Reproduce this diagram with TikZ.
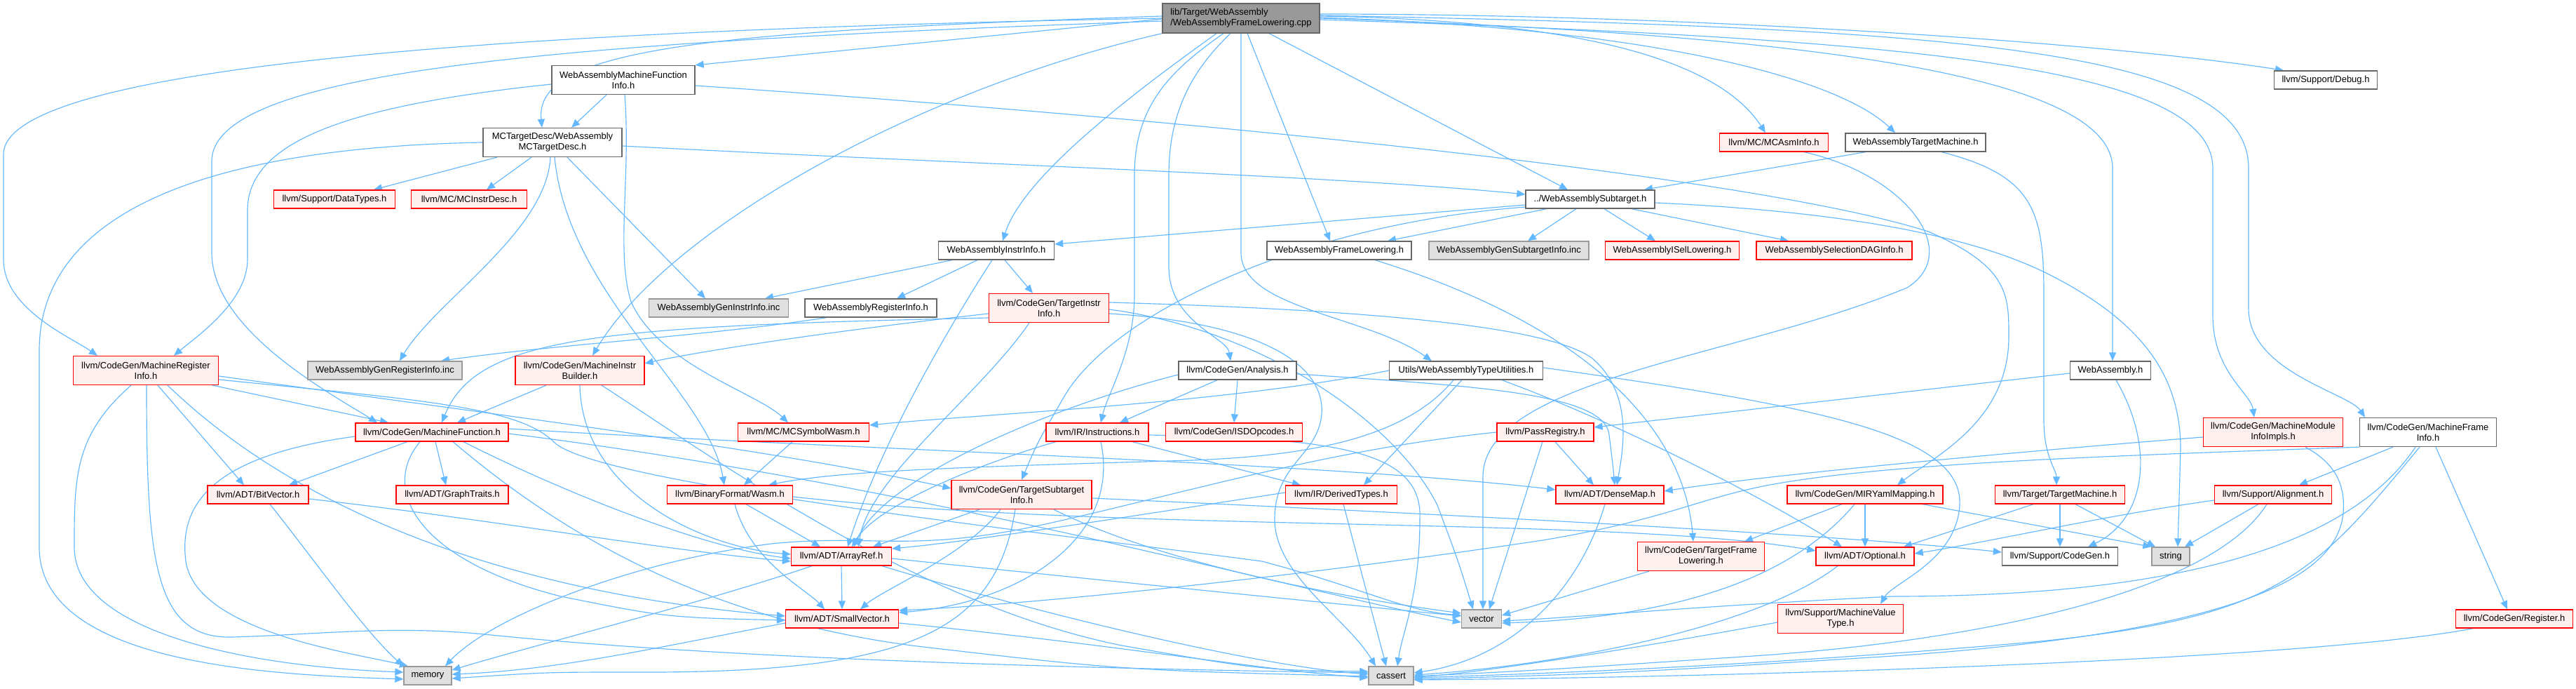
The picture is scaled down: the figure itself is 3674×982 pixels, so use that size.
\documentclass[tikz,border=0pt]{standalone}
\usepackage{fontspec}
\setmainfont{Liberation Sans}
\usetikzlibrary{arrows.meta}
\definecolor{eblue}{HTML}{63B8FF}
\definecolor{gfour}{HTML}{666666}
\definecolor{gsix}{HTML}{999999}
\definecolor{gfill}{HTML}{E0E0E0}
\definecolor{rfill}{HTML}{FFF0F0}
\newcommand\dfont{\fontsize{13}{15}\selectfont}
\newcommand\mknode[7]{\node[#1, minimum width=#5pt, minimum height=#6pt] (#2) at (#3,#4) {#7};}
\pgfdeclarelayer{bgfill}
\pgfdeclarelayer{edges}
\pgfsetlayers{bgfill,edges,main}
\begin{document}
\begin{tikzpicture}[x=1pt,y=-1pt,
 nb/.style={draw=gfour, fill=white, line width=1.3pt, inner sep=0pt, font=\dfont, align=center, text=black},
 nr/.style={nb, draw=red, fill=rfill},
 ng/.style={nb, draw=gsix, fill=gfill},
 nroot/.style={nb, draw=gfour, fill=gsix, align=left},
 e/.style={draw=eblue, line width=1.15pt, -{Triangle[length=12pt,width=10pt]}}]
\begin{pgfonlayer}{bgfill}
\fill[white] (0,0) rectangle (3674,982);
\end{pgfonlayer}
\useasboundingbox (0,0) rectangle (3674,982);

\mknode{nroot}{root}{1770}{26}{224}{42}{lib/Target/WebAssembly\\/WebAssemblyFrameLowering.cpp}
\mknode{nb}{wamfi}{889}{114}{204}{41}{WebAssemblyMachineFunction\\Info.h}
\mknode{nb}{dbg}{3317}{114}{147}{26}{llvm/Support/Debug.h}
\mknode{nb}{mctd}{788}{203}{198}{41}{MCTargetDesc/WebAssembly\\MCTargetDesc.h}
\mknode{nr}{mcasm}{2530}{203}{155}{26}{llvm/MC/MCAsmInfo.h}
\mknode{nb}{watm}{2732}{203}{200}{26}{WebAssemblyTargetMachine.h}
\mknode{nr}{dtypes}{477}{284}{173}{26}{llvm/Support/DataTypes.h}
\mknode{nr}{mcid}{669}{284}{165}{26}{llvm/MC/MCInstrDesc.h}
\mknode{nb}{sub}{2268}{284}{184}{26}{../WebAssemblySubtarget.h}
\mknode{nb}{wii}{1421}{357}{165}{26}{WebAssemblyInstrInfo.h}
\mknode{nb}{flh}{1910}{357}{206}{26}{WebAssemblyFrameLowering.h}
\mknode{ng}{gsub}{2152}{357}{228}{26}{WebAssemblyGenSubtargetInfo.inc}
\mknode{nr}{isel}{2385}{357}{191}{26}{WebAssemblyISelLowering.h}
\mknode{nr}{sdag}{2616}{357}{222}{26}{WebAssemblySelectionDAGInfo.h}
\mknode{ng}{gii}{1025}{439}{199}{26}{WebAssemblyGenInstrInfo.inc}
\mknode{nb}{wri}{1242}{439}{188}{26}{WebAssemblyRegisterInfo.h}
\mknode{nr}{tii}{1496}{439}{171}{41}{llvm/CodeGen/TargetInstr\\Info.h}
\mknode{nr}{mri}{208}{528}{207}{41}{llvm/CodeGen/MachineRegister\\Info.h}
\mknode{ng}{gri}{549}{528}{220}{26}{WebAssemblyGenRegisterInfo.inc}
\mknode{nr}{mib}{827}{528}{184}{41}{llvm/CodeGen/MachineInstr\\Builder.h}
\mknode{nb}{ana}{1765}{528}{168}{26}{llvm/CodeGen/Analysis.h}
\mknode{nb}{wtu}{2091}{528}{219}{26}{Utils/WebAssemblyTypeUtilities.h}
\mknode{nb}{wah}{3010}{528}{115}{26}{WebAssembly.h}
\mknode{nr}{mf}{616}{616}{218}{26}{llvm/CodeGen/MachineFunction.h}
\mknode{nr}{msw}{1146}{616}{187}{26}{llvm/MC/MCSymbolWasm.h}
\mknode{nr}{ins}{1565}{616}{146}{26}{llvm/IR/Instructions.h}
\mknode{nr}{isd}{1760}{616}{195}{26}{llvm/CodeGen/ISDOpcodes.h}
\mknode{nr}{preg}{2204}{616}{138}{26}{llvm/PassRegistry.h}
\mknode{nr}{mmii}{3242}{616}{199}{41}{llvm/CodeGen/MachineModule\\InfoImpls.h}
\mknode{nb}{mfi}{3463}{616}{195}{41}{llvm/CodeGen/MachineFrame\\Info.h}
\mknode{nr}{bv}{368}{705}{144}{26}{llvm/ADT/BitVector.h}
\mknode{nr}{gt}{645}{705}{160}{26}{llvm/ADT/GraphTraits.h}
\mknode{nr}{wasm}{1041}{705}{179}{26}{llvm/BinaryFormat/Wasm.h}
\mknode{nr}{tsi}{1457}{705}{200}{41}{llvm/CodeGen/TargetSubtarget\\Info.h}
\mknode{nr}{dty}{1913}{705}{159}{26}{llvm/IR/DerivedTypes.h}
\mknode{nr}{dm}{2296}{705}{154}{26}{llvm/ADT/DenseMap.h}
\mknode{nr}{mir}{2660}{705}{222}{26}{llvm/CodeGen/MIRYamlMapping.h}
\mknode{nr}{tm}{2938}{705}{185}{26}{llvm/Target/TargetMachine.h}
\mknode{nr}{al}{3242}{705}{167}{26}{llvm/Support/Alignment.h}
\mknode{nr}{ar}{1200}{793}{143}{26}{llvm/ADT/ArrayRef.h}
\mknode{nr}{tfl}{2426}{793}{181}{41}{llvm/CodeGen/TargetFrame\\Lowering.h}
\mknode{nr}{opt}{2660}{793}{140}{26}{llvm/ADT/Optional.h}
\mknode{nb}{cg}{2938}{793}{165}{26}{llvm/Support/CodeGen.h}
\mknode{ng}{str}{3096}{793}{54}{26}{string}
\mknode{nr}{sv}{1201}{882}{161}{26}{llvm/ADT/SmallVector.h}
\mknode{ng}{vec}{2113}{882}{57}{26}{vector}
\mknode{nr}{mvt}{2625}{882}{179}{41}{llvm/Support/MachineValue\\Type.h}
\mknode{nr}{reg}{3586}{882}{167}{26}{llvm/CodeGen/Register.h}
\mknode{ng}{mem}{610}{963}{68}{26}{memory}
\mknode{ng}{cas}{1984}{963}{64}{26}{cassert}

\begin{pgfonlayer}{edges}
% root
\draw[e] (root.west) .. controls (900,40) and (5,80) .. (5,220) -- (5,370) .. controls (5,440) and (100,480) .. ([xshift=-69pt]mri.north);
\draw[e] ([yshift=-4pt]root.west) .. controls (800,60) and (302,100) .. (302,230) -- (302,360) .. controls (302,470) and (470,560) .. ([xshift=-78pt]mf.north);
\draw[e] ([yshift=3pt]root.west) .. controls (1000,45) and (762,70) .. ([xshift=-15pt]mctd.north);
\draw[e] ([yshift=-1pt]root.west) -- (wamfi.north east);
\draw[e] (root.south west) .. controls (1300,130) and (950,330) .. ([xshift=18pt]mib.north);
\draw[e] ([xshift=-35pt]root.south) .. controls (1620,130) and (1460,250) .. ([xshift=9pt]wii.north);
\draw[e] ([xshift=-25pt]root.south) .. controls (1670,100) and (1618,150) .. (1618,250) -- (1618,420) .. controls (1618,500) and (1580,560) .. ([xshift=5pt]ins.north);
\draw[e] ([xshift=-15pt]root.south) .. controls (1700,100) and (1667,160) .. (1667,250) -- (1667,380) .. controls (1667,460) and (1750,480) .. ([xshift=-10pt]ana.north);
\draw[e] (root.south) -- (1770,360) .. controls (1770,440) and (1950,450) .. ([xshift=-49pt]wtu.north);
\draw[e] ([xshift=9pt]root.south) -- ([xshift=-13pt]flh.north);
\draw[e] ([xshift=40pt]root.south) -- ([xshift=-32pt]sub.north);
\draw[e] ([yshift=6pt]root.east) .. controls (2400,20) and (3000,60) .. ([xshift=-60pt]dbg.north);
\draw[e] ([yshift=3pt]root.east) .. controls (2300,30) and (2460,100) .. ([xshift=-12pt]mcasm.north);
\draw[e] ([yshift=1pt]root.east) .. controls (2350,40) and (2620,110) .. ([xshift=-29pt]watm.north);
\draw[e] (root.east) .. controls (2600,50) and (3013,110) .. (3013,240) -- ([xshift=3pt]wah.north);
\draw[e] ([yshift=-2pt]root.east) .. controls (2700,55) and (3156,90) .. (3156,240) -- (3156,450) .. controls (3156,530) and (3210,560) .. ([xshift=-27pt]mmii.north);
\draw[e] ([yshift=4pt]root.east) .. controls (2800,40) and (3207,70) .. (3207,240) -- (3207,440) .. controls (3207,530) and (3350,560) .. ([xshift=-90pt]mfi.north);
% WAMFI
\draw[e] ([xshift=-24pt]wamfi.south) -- ([xshift=27pt]mctd.north);
\draw[e] ([yshift=-6pt]wamfi.west) .. controls (500,150) and (353,200) .. (353,300) -- (353,370) .. controls (353,430) and (280,480) .. ([xshift=40pt]mri.north);
\draw[e] ([xshift=2pt]wamfi.south) .. controls (900,250) and (878,360) .. (900,430) .. controls (940,520) and (1080,560) .. ([xshift=-22pt]msw.north);
\draw[e] ([yshift=-8pt]wamfi.east) .. controls (1700,170) and (2500,250) .. (2750,330) .. controls (2865,380) and (2865,420) .. (2865,480) .. controls (2865,600) and (2760,650) .. ([xshift=46pt]mir.north);
% MCTargetDesc
\draw[e] ([xshift=-79pt]mctd.south) -- ([xshift=56pt]dtypes.north);
\draw[e] ([xshift=-30pt]mctd.south) -- ([xshift=25pt]mcid.north);
\draw[e] ([xshift=-3pt]mctd.south) .. controls (780,330) and (620,430) .. ([xshift=21pt]gri.north);
\draw[e] ([xshift=3pt]mctd.south) .. controls (810,420) and (1010,560) .. ([xshift=-8pt]wasm.north);
\draw[e] ([xshift=21pt]mctd.south) -- ([xshift=-19pt]gii.north);
\draw[e] (mctd.west) .. controls (300,210) and (56,300) .. (56,500) -- (56,780) .. controls (56,950) and (400,962) .. ([yshift=-5pt]mem.west);
\draw[e] ([yshift=-5pt]mctd.east) .. controls (1400,235) and (1900,250) .. ([yshift=7pt]sub.west);
% WATM, MCAsmInfo, WebAssembly.h
\draw[e] ([xshift=-71pt]watm.south) -- ([xshift=77pt]sub.north);
\draw[e] ([xshift=37pt]watm.south) .. controls (2900,250) and (2915,300) .. (2915,420) -- (2915,600) .. controls (2915,650) and (2933,670) .. ([xshift=-5pt]tm.north);
\draw[e] ([xshift=43pt]mcasm.south) .. controls (2720,250) and (2800,360) .. (2720,410) .. controls (2480,510) and (2115,540) .. (2115,680) -- ([xshift=2pt]vec.north);
\draw[e] ([yshift=-4pt]wah.west) -- ([yshift=7pt]preg.east);
\draw[e] ([xshift=8pt]wah.south) .. controls (3075,640) and (3060,740) .. ([xshift=40pt]cg.north);
% Subtarget
\draw[e] ([yshift=-8pt]sub.west) -- ([yshift=9pt]wii.east);
\draw[e] ([yshift=-11pt]sub.west) .. controls (1850,320) and (1580,450) .. (1515,570) .. controls (1480,630) .. (tsi.north);
\draw[e] ([xshift=-62pt]sub.south) -- ([xshift=69pt]flh.north);
\draw[e] ([xshift=-20pt]sub.south) -- ([xshift=27pt]gsub.north);
\draw[e] ([xshift=20pt]sub.south) -- ([xshift=-24pt]isel.north);
\draw[e] ([xshift=59pt]sub.south) -- ([xshift=-65pt]sdag.north);
\draw[e] ([yshift=-5pt]sub.east) .. controls (2600,300) and (2800,330) .. (2920,390) .. controls (3060,460) and (3110,540) .. (3110,640) -- ([xshift=10pt]str.north);
% WAInstrInfo, RegisterInfo, FrameLowering
\draw[e] ([xshift=-63pt]wii.south) -- ([xshift=66pt]gii.north);
\draw[e] ([xshift=-27pt]wii.south) -- ([xshift=37pt]wri.north);
\draw[e] ([xshift=12pt]wii.south) -- ([xshift=-23pt]tii.north);
\draw[e] ([xshift=-6pt]wii.south) .. controls (1370,440) and (1260,620) .. ([xshift=9pt]ar.north);
\draw[e] ([xshift=-63pt]wri.south) .. controls (1000,480) and (800,490) .. ([xshift=80pt]gri.north);
\draw[e] ([xshift=51pt]flh.south) .. controls (2250,460) and (2400,600) .. ([xshift=-11pt]tfl.north);
% TargetInstrInfo
\draw[e] ([yshift=-8pt]tii.west) .. controls (1200,470) and (1000,500) .. ([yshift=10pt]mib.east);
\draw[e] ([yshift=-14pt]tii.west) .. controls (850,465) and (680,480) .. ([xshift=14pt]mf.north);
\draw[e] ([xshift=-28pt]tii.south) .. controls (1400,560) and (1240,680) .. ([xshift=24pt]ar.north);
\draw[e] ([yshift=8pt]tii.east) .. controls (1900,440) and (2200,460) .. (2270,510) .. controls (2330,560) and (2315,640) .. ([xshift=10pt]dm.north);
\draw[e] ([yshift=-2pt]tii.east) .. controls (1800,470) and (1990,600) .. (2050,720) .. controls (2080,800) .. ([xshift=-12pt]vec.north);
\draw[e] ([yshift=-8pt]tii.east) .. controls (1800,460) and (1890,520) .. (1885,590) .. controls (1880,650) and (1818,660) .. (1818,740) .. controls (1818,820) and (1920,880) .. ([xshift=-22pt]cas.north);
% MachineRegisterInfo
\draw[e] ([xshift=95pt]mri.south) -- ([xshift=-62pt]mf.north);
\draw[e] ([xshift=17pt]mri.south) -- ([xshift=-20pt]bv.north);
\draw[e] ([xshift=-21pt]mri.south) .. controls (106,620) and (106,680) .. (106,780) .. controls (106,900) and (350,950) .. ([yshift=5pt]mem.west);
\draw[e] ([xshift=1pt]mri.south) .. controls (209,800) and (220,910) .. (330,908) .. controls (450,905) and (560,890) .. (700,905) .. controls (1100,945) and (1700,955) .. ([yshift=4pt]cas.west);
\draw[e] ([xshift=31pt]mri.south) .. controls (500,800) and (900,860) .. ([yshift=4pt]sv.west);
\draw[e] ([yshift=-8pt]mri.east) .. controls (700,590) and (1100,640) .. ([yshift=9pt]tsi.west);
\draw[e] ([yshift=-13pt]mri.east) .. controls (600,570) and (740,580) .. (790,630) .. controls (850,690) and (1500,760) .. (1800,800) .. controls (1950,840) and (2000,870) .. ([yshift=5pt]vec.west);
% MachineFunction
\draw[e] ([xshift=-35pt]mf.south) -- ([xshift=44pt]bv.north);
\draw[e] ([xshift=5pt]mf.south) -- ([xshift=-9pt]gt.north);
\draw[e] ([yshift=-6pt]mf.west) .. controls (300,650) and (255,720) .. (265,800) .. controls (280,900) and (500,930) .. ([xshift=-28pt]mem.north);
\draw[e] ([xshift=-17pt]mf.south) .. controls (540,700) and (600,800) .. (800,850) .. controls (950,880) .. ([yshift=-2pt]sv.west);
\draw[e] ([xshift=30pt]mf.south) .. controls (800,760) and (1000,880) .. (1300,920) .. controls (1600,955) .. ([yshift=-1pt]cas.west);
\draw[e] ([xshift=45pt]mf.south) .. controls (800,700) and (1000,780) .. ([yshift=-3pt]ar.west);
\draw[e] ([yshift=5pt]mf.east) .. controls (1200,640) and (1900,660) .. ([yshift=7pt]dm.west);
\draw[e] ([yshift=-2pt]mf.east) .. controls (1300,690) and (1800,830) .. ([yshift=-5pt]vec.west);
% MachineInstrBuilder
\draw[e] ([xshift=-48pt]mib.south) -- ([xshift=36pt]mf.north);
\draw[e] (mib.south) .. controls (830,700) and (1000,780) .. ([yshift=3pt]ar.west);
\draw[e] ([xshift=31pt]mib.south) .. controls (1000,640) and (1300,860) .. (1600,920) .. controls (1800,955) .. ([yshift=6pt]cas.west);
% BitVector
\draw[e] ([xshift=17pt]bv.south) .. controls (450,800) and (520,900) .. (mem.north west);
\draw[e] ([yshift=-6pt]bv.east) .. controls (700,740) and (950,785) .. ([yshift=-7pt]ar.west);
% TypeUtilities
\draw[e] (wtu.west) .. controls (1750,575) and (1400,590) .. ([yshift=10pt]msw.east);
\draw[e] ([xshift=-18pt]wtu.south) .. controls (2000,630) and (1850,650) .. (1700,656) .. controls (1400,665) and (1200,670) .. ([xshift=55pt]wasm.north);
\draw[e] ([xshift=-6pt]wtu.south) -- ([xshift=32pt]dty.north);
\draw[e] ([xshift=51pt]wtu.south) .. controls (2300,600) and (2500,700) .. ([xshift=-33pt]opt.north);
\draw[e] ([yshift=4pt]wtu.east) .. controls (2600,580) and (2800,620) .. (2795,720) .. controls (2790,800) and (2700,830) .. ([xshift=57pt]mvt.north);
% Analysis
\draw[e] ([xshift=-29pt]ana.south) -- ([xshift=32pt]ins.north);
\draw[e] (ana.south) -- (isd.north);
\draw[e] ([yshift=-6pt]ana.west) .. controls (1500,580) and (1260,680) .. ([xshift=18pt]ar.north);
\draw[e] ([yshift=-5pt]ana.east) .. controls (2100,550) and (2290,560) .. (2295,620) .. controls (2300,660) .. ([xshift=7pt]dm.north);
% Instructions
\draw[e] ([xshift=-59pt]ins.south) .. controls (1400,660) and (1250,720) .. ([xshift=15pt]ar.north);
\draw[e] ([xshift=5pt]ins.south) .. controls (1600,770) and (1450,860) .. ([yshift=9pt]sv.east);
\draw[e] ([xshift=50pt]ins.south) -- ([xshift=-58pt]dty.north);
\draw[e] ([yshift=-4pt]ins.east) .. controls (1900,625) and (2030,640) .. (2025,740) .. controls (2025,850) and (2000,900) .. ([xshift=9pt]cas.north);
% PassRegistry
\draw[e] ([xshift=14pt]preg.south) -- ([xshift=-23pt]dm.north);
\draw[e] ([xshift=-4pt]preg.south) -- ([xshift=11pt]vec.north);
\draw[e] (preg.west) .. controls (1900,640) and (1700,700) .. (1500,745) .. controls (1300,790) and (1250,760) .. (1100,775) .. controls (900,800) and (700,880) .. ([xshift=25pt]mem.north);
% MCSymbolWasm, Wasm
\draw[e] ([xshift=-16pt]msw.south) -- ([xshift=20pt]wasm.north);
\draw[e] ([xshift=23pt]wasm.south) -- ([xshift=-30pt]ar.north);
\draw[e] ([xshift=7pt]wasm.south) .. controls (1070,800) and (1150,840) .. ([xshift=-25pt]sv.north);
\draw[e] ([yshift=-3pt]wasm.east) .. controls (1600,760) and (2300,735) .. ([yshift=8pt]opt.west);
% DerivedTypes, DenseMap
\draw[e] ([xshift=3pt]dty.south) -- ([xshift=-7pt]cas.north);
\draw[e] ([yshift=3pt]dty.west) .. controls (1650,730) and (1400,770) .. ([yshift=11pt]ar.east);
\draw[e] ([xshift=-7pt]dm.south) .. controls (2250,850) and (2150,940) .. ([yshift=4pt]cas.east);
% ArrayRef, SmallVector
\draw[e] (ar.south) -- (sv.north);
\draw[e] ([xshift=-42pt]ar.south) .. controls (1000,860) and (760,920) .. ([yshift=8pt]mem.east);
\draw[e] ([yshift=-3pt]ar.east) .. controls (1600,830) and (1900,860) .. ([yshift=4pt]vec.west);
\draw[e] ([xshift=58pt]ar.south) .. controls (1500,880) and (1800,950) .. ([yshift=2pt]cas.west);
\draw[e] ([yshift=-6pt]sv.west) .. controls (950,920) and (800,955) .. ([yshift=2pt]mem.east);
\draw[e] ([yshift=-6pt]sv.east) .. controls (1600,920) and (1800,955) .. ([yshift=-3pt]cas.west);
% TargetSubtargetInfo
\draw[e] ([xshift=-60pt]tsi.south) -- ([xshift=45pt]ar.north);
\draw[e] ([xshift=-30pt]tsi.south) .. controls (1380,790) and (1260,840) .. ([xshift=26pt]sv.north);
\draw[e] ([xshift=-9pt]tsi.south) .. controls (1420,900) and (1300,960) .. (900,958) .. controls (780,958) .. ([yshift=-4pt]mem.east);
\draw[e] ([xshift=46pt]tsi.south) .. controls (1650,800) and (1900,850) .. ([yshift=8pt]vec.west);
\draw[e] ([yshift=-5pt]tsi.east) .. controls (2000,730) and (2600,760) .. ([yshift=6pt]cg.west);
% TargetFrameLowering, MIRYamlMapping
\draw[e] ([xshift=-74pt]tfl.south) -- ([yshift=5pt]vec.east);
\draw[e] ([xshift=-33pt]mir.south) -- ([xshift=62pt]tfl.north);
\draw[e] ([xshift=-15pt]mir.south) .. controls (2560,820) and (2400,880) .. ([yshift=-6pt]vec.east);
\draw[e] (mir.south) -- (opt.north);
\draw[e] ([xshift=82pt]mir.south) -- (str.north west);
% Optional, MVT, TargetMachine
\draw[e] ([xshift=-39pt]opt.south) .. controls (2500,900) and (2200,950) .. ([yshift=1pt]cas.east);
\draw[e] ([yshift=-5pt]mvt.west) .. controls (2300,930) and (2100,960) .. ([yshift=-2pt]cas.east);
\draw[e] ([xshift=-38pt]tm.south) -- ([xshift=55pt]opt.north);
\draw[e] (tm.south) -- (cg.north);
\draw[e] ([xshift=22pt]tm.south) -- ([xshift=-22pt]str.north);
% Alignment
\draw[e] ([yshift=-8pt]al.west) .. controls (3000,735) and (2850,770) .. ([yshift=4pt]opt.east);
\draw[e] ([xshift=-21pt]al.south) -- ([xshift=20pt]str.north);
\draw[e] ([xshift=-9pt]al.south) .. controls (3150,850) and (2800,915) .. (2500,935) .. controls (2200,955) .. ([yshift=-1pt]cas.east);
% MachineFrameInfo
\draw[e] ([xshift=-50pt]mfi.south) -- ([xshift=37pt]al.north);
\draw[e] ([xshift=-18pt]mfi.south) .. controls (3350,780) and (3100,850) .. (2700,850) .. controls (2400,865) and (2250,880) .. ([yshift=-3pt]vec.east);
\draw[e] ([xshift=-12pt]mfi.south) .. controls (3300,820) and (3250,880) .. (2900,915) .. controls (2500,950) and (2200,960) .. ([yshift=-3pt]cas.east);
\draw[e] ([xshift=11pt]mfi.south) -- ([xshift=-10pt]reg.north);
\draw[e] (mfi.south west) .. controls (3000,650) and (2700,660) .. (2530,690) .. controls (2420,710) and (2380,740) .. (2200,770) .. controls (1900,815) and (1500,860) .. ([yshift=12pt]sv.east);
% MachineModuleInfoImpls, Register
\draw[e] ([yshift=-7pt]mmii.west) .. controls (2800,650) and (2500,680) .. ([yshift=5pt]dm.east);
\draw[e] ([xshift=46pt]mmii.south) .. controls (3330,660) and (3345,690) .. (3342,730) .. controls (3335,820) and (3200,900) .. (2700,935) .. controls (2300,960) .. ([yshift=-5pt]cas.east);
\draw[e] ([xshift=-59pt]reg.south) .. controls (3300,940) and (2500,965) .. ([yshift=-6pt]cas.east);
\end{pgfonlayer}
\end{tikzpicture}
\end{document}
